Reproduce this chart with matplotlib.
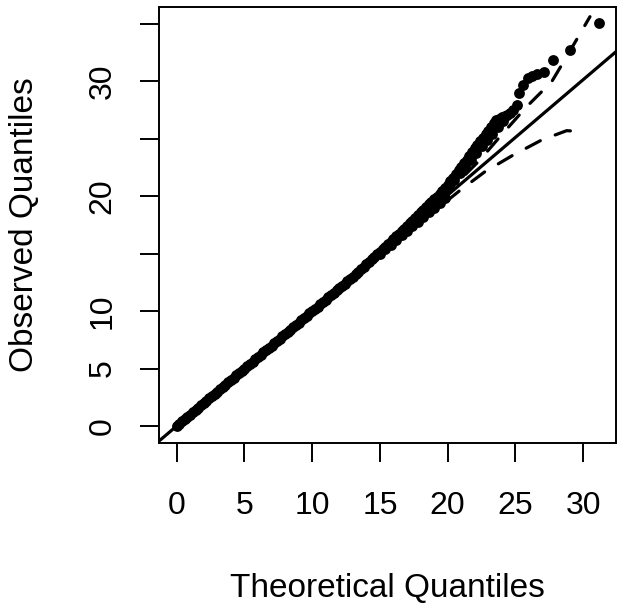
import numpy as np
import matplotlib.pyplot as plt

plt.rcParams['font.family'] = ['Liberation Sans', 'DejaVu Sans']

# quantile pairs (theoretical, observed)
# body of the distribution: points sit on the reference line
theo_body = [0.0, 0.2, 0.4, 0.6, 0.8, 1.0, 1.2, 1.4, 1.6, 1.8, 2.0, 2.2, 2.4,
             2.6, 2.8, 3.0, 3.2, 3.4, 3.6, 3.8, 4.0, 4.2, 4.4, 4.6, 4.8, 5.0,
             5.2, 5.4, 5.6, 5.8, 6.0, 6.2, 6.4, 6.6, 6.8, 7.0, 7.2, 7.4, 7.6,
             7.8, 8.0, 8.2, 8.4, 8.6, 8.8, 9.0, 9.2, 9.4, 9.6, 9.8, 10.0, 10.2,
             10.4, 10.6, 10.8, 11.0, 11.2, 11.4, 11.6, 11.8, 12.0, 12.2, 12.4,
             12.6, 12.8, 13.0]
obs_body = [0.0, 0.2, 0.4, 0.6, 0.8, 1.0, 1.2, 1.4, 1.6, 1.8, 2.0, 2.2, 2.4,
            2.6, 2.8, 3.0, 3.2, 3.4, 3.6, 3.8, 4.0, 4.2, 4.4, 4.6, 4.8, 5.0,
            5.2, 5.4, 5.6, 5.8, 6.0, 6.2, 6.4, 6.6, 6.8, 7.0, 7.2, 7.4, 7.6,
            7.8, 8.0, 8.2, 8.4, 8.6, 8.8, 9.0, 9.2, 9.4, 9.6, 9.8, 10.0, 10.2,
            10.4, 10.6, 10.8, 11.0, 11.2, 11.4, 11.6, 11.8, 12.0, 12.2, 12.4,
            12.6, 12.8, 13.0]

# upper part: points drift above the line
theo_mid = [13.2, 13.4, 13.6, 13.8, 14.0, 14.2, 14.4, 14.6, 14.8, 15.0, 15.2,
            15.4, 15.6, 15.8, 16.0, 16.2, 16.4, 16.6, 16.8, 17.0, 17.2, 17.4,
            17.6, 17.8, 18.0, 18.2, 18.4, 18.6,
            15.0, 15.4, 15.8, 16.2, 16.6, 17.0, 17.4, 17.8, 18.2, 18.6, 19.0,
            19.4, 19.8]
obs_mid = [13.25, 13.45, 13.66, 13.87, 14.08, 14.29, 14.5, 14.72, 14.94,
           15.16, 15.38, 15.6, 15.82, 16.05, 16.28, 16.5, 16.73, 16.96, 17.19,
           17.42, 17.65, 17.88, 18.12, 18.36, 18.6, 18.84, 19.08, 19.32,
           15.0, 15.4, 15.8, 16.2, 16.6, 17.0, 17.4, 17.8, 18.2, 18.6, 19.0,
           19.4, 19.85]

# tail
theo_tail = [18.8, 19.0, 19.2, 19.4, 19.6, 19.8, 20.0, 20.2, 20.4, 20.6, 20.8,
             21.0, 21.2, 21.4, 21.6, 21.8, 22.0, 22.2, 22.4, 22.6, 22.8, 23.0,
             23.2, 23.4, 23.6, 23.8, 24.0, 24.2, 24.4, 24.6, 24.85, 25.09,
             25.28, 25.58, 25.95, 26.25, 26.57, 27.11, 27.79, 29.03, 31.17,
             19.3, 19.7, 20.1, 20.5, 20.9, 21.3, 21.7, 22.1, 22.5, 22.9, 23.3,
             23.7, 24.1]
obs_tail = [19.5, 19.72, 19.95, 20.2, 20.45, 20.72, 21.0, 21.3, 21.62, 21.94,
            22.26, 22.58, 22.89, 23.2, 23.51, 23.84, 24.16, 24.47, 24.78, 25.1,
            25.41, 25.72, 26.02, 26.35, 26.6, 26.76, 26.88, 26.98, 27.1, 27.22,
            27.55, 27.95, 28.97, 29.69, 30.27, 30.5, 30.65, 30.85, 31.86, 32.74,
            35.06,
            19.85, 20.35, 20.9, 21.45, 22.0, 22.6, 23.2, 23.75, 24.35, 24.9,
            25.45, 26.0, 26.55]

# confidence envelope
upper_x = [0.0, 10.0, 17.0, 19.0, 20.91, 22.38, 23.86, 25.83, 27.68, 28.78, 30.5]
upper_y = [0.0, 10.0, 17.1, 19.3, 21.42, 23.16, 25.19, 27.8, 29.98, 32.15, 35.63]
lower_x = [0.0, 10.0, 17.0, 19.0, 20.9, 22.75, 24.84, 26.94, 28.78, 30.13]
lower_y = [0.0, 10.0, 16.9, 18.7, 20.5, 22.14, 23.59, 24.9, 25.71, 25.62]

line_intercept = 0.0
line_slope = 1.005

theo = np.concatenate([theo_body, theo_mid, theo_tail])
obs = np.concatenate([obs_body, obs_mid, obs_tail])

fig = plt.figure(figsize=(6.24, 6.05), dpi=100)
ax = fig.add_axes([0.2553, 0.2683, 0.7314, 0.7206])

ax.plot(upper_x, upper_y, color='black', lw=2.3, dashes=(5, 5),
        dash_capstyle='round', zorder=2)
ax.plot(lower_x, lower_y, color='black', lw=2.3, dashes=(5, 5),
        dash_capstyle='round', zorder=2)
ax.axline((0, line_intercept), slope=line_slope, color='black', lw=2.3, zorder=2)
ax.plot(theo, obs, 'o', color='black', ms=7.8, mew=0, zorder=3)

ax.set_xlim(-1.28, 32.4)
ax.set_ylim(-1.45, 36.5)

ax.set_xticks([0, 5, 10, 15, 20, 25, 30])
ax.set_yticks([0, 5, 10, 15, 20, 25, 30, 35])
ax.set_yticklabels(['0', '5', '10', '', '20', '', '30', ''])

for s in ax.spines.values():
    s.set_linewidth(1.4)
ax.tick_params(length=14, width=1.4, labelsize=23, pad=21)
ax.tick_params(axis='y', labelrotation=90, pad=16)
for lab in ax.get_yticklabels():
    lab.set_va('center')

ax.set_xlabel('Theoretical Quantiles', fontsize=24, va='baseline')
ax.xaxis.set_label_coords(0.5, -0.353)
ax.set_ylabel('Observed Quantiles', fontsize=24, va='baseline', ha='center',
              rotation=90, rotation_mode='anchor')
ax.yaxis.set_label_coords(-0.2767, 0.5)

fig.savefig('out.png', dpi=100)
